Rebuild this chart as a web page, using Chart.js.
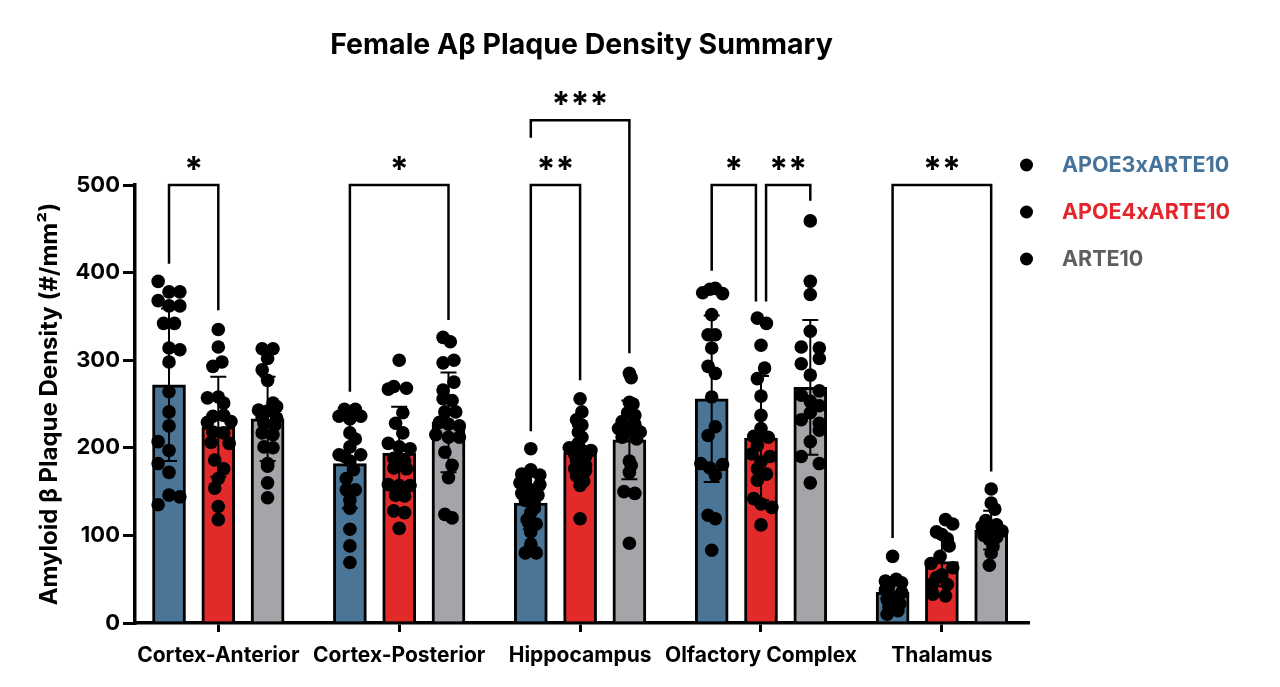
<!DOCTYPE html>
<html>
<head>
<meta charset="utf-8">
<title>Female Aβ Plaque Density Summary</title>
<script src="https://cdn.jsdelivr.net/npm/chart.js@4.4.1/dist/chart.umd.min.js"></script>
<style>
  html, body { margin: 0; background: #fff; }
  #wrap { position: relative; width: 1280px; height: 687px; }
</style>
</head>
<body>
<div id="wrap"><canvas id="plaqueChart"></canvas></div>
<script>
const chartTitle = 'Female Aβ Plaque Density Summary';
const regions = ['Cortex-Anterior', 'Cortex-Posterior', 'Hippocampus', 'Olfactory Complex', 'Thalamus'];
const genotypes = ['APOE3xARTE10', 'APOE4xARTE10', 'ARTE10'];

// bar heights (mean) and error bars (SD), one entry per region
const apoe3Mean = [272, 182, 137, 256, 35];
const apoe3SD = [87, 51, 30, 95, 15];
const apoe4Mean = [224, 194, 195, 211, 70];
const apoe4SD = [57, 53, 30, 71, 28];
const arte10Mean = [233, 229, 209, 269, 106];
const arte10SD = [48, 57, 45, 77, 22];

// individual animals, per region
const apoe3Values = [
  [390, 378, 378, 368, 362, 362, 342, 342, 314, 312, 298, 264, 241, 225, 207, 197, 182, 172, 146, 144, 135],
  [244, 244, 236, 236, 233, 217, 210, 201, 192, 192, 190, 185, 175, 165, 152, 152, 140, 131, 107, 88, 69],
  [199, 175, 170, 169, 163, 160, 158, 152, 148, 146, 140, 136, 131, 126, 118, 114, 113, 104, 90, 80, 80],
  [377, 381, 382, 376, 352, 329, 329, 314, 293, 285, 258, 224, 214, 182, 177, 181, 169, 123, 119, 83],
  [76, 48, 50, 46, 42, 38, 35, 30, 27, 22, 18, 14, 10]
];
const apoe4Values = [
  [335, 315, 293, 298, 257, 258, 251, 236, 237, 229, 230, 218, 217, 206, 205, 186, 176, 165, 154, 133, 118],
  [300, 270, 267, 268, 240, 228, 217, 205, 201, 199, 188, 185, 177, 176, 158, 157, 157, 146, 145, 128, 126, 108],
  [256, 241, 232, 226, 218, 212, 205, 200, 199, 197, 193, 190, 186, 180, 176, 174, 168, 162, 157, 119],
  [348, 342, 317, 291, 279, 259, 237, 222, 213, 212, 203, 193, 190, 184, 176, 170, 163, 142, 136, 132, 112],
  [118, 113, 104, 101, 96, 88, 76, 68, 63, 55, 52, 45, 44, 33, 31]
];
const arte10Values = [
  [313, 313, 302, 289, 277, 251, 247, 243, 242, 235, 234, 228, 226, 217, 215, 201, 200, 182, 179, 160, 143],
  [326, 321, 300, 297, 275, 266, 256, 254, 241, 241, 229, 227, 225, 215, 212, 212, 195, 180, 166, 124, 120],
  [285, 280, 252, 250, 240, 237, 230, 227, 222, 220, 218, 212, 210, 185, 180, 172, 150, 148, 91],
  [459, 390, 375, 333, 315, 314, 302, 296, 283, 265, 260, 253, 248, 240, 232, 228, 220, 207, 190, 182, 160],
  [153, 137, 130, 117, 112, 110, 108, 105, 100, 98, 95, 88, 80, 66]
];

// horizontal scatter of each dot, hundredths of a region width
const apoe3Jitter = [
  [-6, 0, 6, -6, 0, 6, -3, 3, 0, 6, 0, 0, 0, 0, -6, 0, -6, 0, 0, 6, -6],
  [-3, 3, -6, 6, 0, 0, 3, 0, -6, 6, -3, 0, 2, -2, -2, 3, 0, 0, 0, 0, 0],
  [0, 0, -5, 5, -3, -6, 5, 0, -5, 4, -3, 2, 2, 0, -2, -1, 3, 0, 0, -3, 3],
  [-5, -1, 2, 6, 0, -2, 2, 0, -2, 2, 0, 2, -2, -6, -1, 6, 2, -2, 2, 0],
  [0, -4, 2, 5, -2, -4, 5, 0, -3, 4, -2, 3, -3]
];
const apoe4Jitter = [
  [0, 0, -3, 2, -6, 0, 3, -3, 3, -6, 7, -3, 3, -4, 6, -2, 3, 0, -2, 0, 0],
  [0, -3, -6, 4, 2, -2, 2, -6, 0, 6, -3, 3, -3, 4, -6, 0, 6, -2, 3, -3, 3, 0],
  [0, 1, -2, 1, -1, 1, -1, -6, 0, 6, -3, 3, -2, 3, -3, 3, -2, 2, 0, 0],
  [-2, 3, 0, 2, -2, 0, 0, 0, -4, 4, -2, -5, 5, 0, -2, 3, -2, -4, 0, 6, 0],
  [2, 6, -3, 0, 3, 4, -1, -6, 6, 0, -3, -5, 3, -5, 2]
];
const arte10Jitter = [
  [-3, 3, 0, -3, 0, 3, 5, -5, 0, -3, 5, -2, 4, -3, 3, -2, 3, 0, 0, 0, 0],
  [-3, 1, 3, -3, 3, -3, -3, 2, -2, 4, -5, 0, 6, -7, 0, 6, -2, 2, 0, -2, 2],
  [0, 1, 0, 2, -1, 3, -4, 3, -6, 0, 6, -4, 4, 0, 1, 0, -3, 3, 0],
  [0, 0, 0, 0, -5, 5, 5, -5, 0, 5, -5, 0, 5, 0, -5, 5, 5, 0, -5, 5, 0],
  [0, 0, 2, -3, 3, -5, 0, 6, -4, 3, -1, 1, 0, -1]
];

// significance brackets: genotype indexes, bracket level and leg ends (y values)
const brackets = [
  { region: 0, from: 0, to: 1, level: 500, footFrom: 410, footTo: 357, label: '*' },
  { region: 1, from: 0, to: 2, level: 500, footFrom: 264, footTo: 346, label: '*' },
  { region: 2, from: 0, to: 1, level: 500, footFrom: 219, footTo: 277, label: '**' },
  { region: 2, from: 0, to: 2, level: 574, footFrom: 554, footTo: 308, label: '***' },
  { region: 3, from: 0, to: 1, level: 500, footFrom: 402, footTo: 367, label: '*', nudgeTo: -0.028 },
  { region: 3, from: 1, to: 2, level: 500, footFrom: 367, footTo: 482, label: '**', nudgeFrom: 0.028 },
  { region: 4, from: 0, to: 2, level: 500, footFrom: 97, footTo: 173, label: '**' }
];

const barColors = ['#4a7597', '#e22a2a', '#a4a4a9'];
const legendColors = ['#457399', '#e3262b', '#5e5e5e'];

const means = [apoe3Mean, apoe4Mean, arte10Mean];
const sds = [apoe3SD, apoe4SD, arte10SD];
const values = [apoe3Values, apoe4Values, arte10Values];
const jitters = [apoe3Jitter, apoe4Jitter, arte10Jitter];

const barStep = 0.2725;
const groupOffsets = [-barStep, 0, barStep];
const font = 'Inter, "Noto Sans", "DejaVu Sans", sans-serif';

Chart.defaults.font.family = font;
Chart.defaults.color = '#000';

const datasets = [];
genotypes.forEach((name, g) => {
  datasets.push({
    type: 'bar',
    label: name,
    genotype: g,
    data: regions.map((r, i) => ({ x: i + groupOffsets[g], y: means[g][i] })),
    backgroundColor: barColors[g],
    borderColor: '#000',
    borderWidth: 3,
    borderSkipped: 'start',
    barThickness: 33,
    grouped: false,
    order: 2
  });
});
genotypes.forEach((name, g) => {
  const pts = [];
  values[g].forEach((list, i) => {
    list.forEach((v, k) => {
      pts.push({ x: i + groupOffsets[g] + jitters[g][i][k] / 100, y: v });
    });
  });
  datasets.push({
    type: 'scatter',
    label: name + ' points',
    data: pts,
    pointRadius: 6.8,
    pointHoverRadius: 6.8,
    pointBackgroundColor: '#000',
    pointBorderWidth: 0,
    showLine: false,
    clip: false,
    order: 0
  });
});

const errorBars = {
  id: 'errorBars',
  afterDatasetDraw(chart, args) {
    const ds = chart.data.datasets[args.index];
    if (ds.type !== 'bar') return;
    const g = ds.genotype;
    const y = chart.scales.y;
    const ctx = chart.ctx;
    ctx.save();
    ctx.strokeStyle = '#000';
    ctx.lineWidth = 2;
    args.meta.data.forEach((bar, i) => {
      const top = y.getPixelForValue(means[g][i] + sds[g][i]);
      const bot = y.getPixelForValue(means[g][i] - sds[g][i]);
      ctx.beginPath();
      ctx.moveTo(bar.x, top); ctx.lineTo(bar.x, bot);
      ctx.moveTo(bar.x - 8, top); ctx.lineTo(bar.x + 8, top);
      ctx.moveTo(bar.x - 8, bot); ctx.lineTo(bar.x + 8, bot);
      ctx.stroke();
    });
    ctx.restore();
  }
};

const annotations = {
  id: 'annotations',
  afterDraw(chart) {
    const ctx = chart.ctx;
    const x = chart.scales.x;
    const y = chart.scales.y;
    const area = chart.chartArea;
    ctx.save();

    // title
    ctx.fillStyle = '#000';
    ctx.font = 'bold 28.5px ' + font;
    ctx.textAlign = 'center';
    ctx.textBaseline = 'middle';
    ctx.fillText(chartTitle, (area.left + area.right) / 2, 45);

    // brackets
    ctx.strokeStyle = '#000';
    ctx.lineWidth = 2.5;
    ctx.lineJoin = 'miter';
    brackets.forEach(b => {
      const xa = x.getPixelForValue(b.region + groupOffsets[b.from] + (b.nudgeFrom || 0));
      const xb = x.getPixelForValue(b.region + groupOffsets[b.to] + (b.nudgeTo || 0));
      const yl = y.getPixelForValue(b.level);
      ctx.beginPath();
      ctx.moveTo(xa, y.getPixelForValue(b.footFrom));
      ctx.lineTo(xa, yl);
      ctx.lineTo(xb, yl);
      ctx.lineTo(xb, y.getPixelForValue(b.footTo));
      ctx.stroke();
      ctx.font = 'bold 34px ' + font;
      ctx.textAlign = 'center';
      ctx.textBaseline = 'alphabetic';
      ctx.fillText(b.label, (xa + xb) / 2, yl - 4);
    });

    // legend
    ctx.font = 'bold 21.5px ' + font;
    ctx.textAlign = 'left';
    ctx.textBaseline = 'middle';
    genotypes.forEach((name, g) => {
      const ly = 165 + g * 47;
      ctx.fillStyle = '#000';
      ctx.beginPath();
      ctx.arc(1026.5, ly, 6.5, 0, Math.PI * 2);
      ctx.fill();
      ctx.fillStyle = legendColors[g];
      ctx.fillText(name, 1062, ly + 1);
    });
    ctx.restore();
  }
};

new Chart(document.getElementById('plaqueChart'), {
  type: 'bar',
  data: { datasets: datasets },
  options: {
    responsive: true,
    maintainAspectRatio: false,
    animation: false,
    layout: { padding: { top: 185, right: 252, bottom: 0, left: 0 } },
    plugins: {
      legend: { display: false },
      title: { display: false },
      tooltip: { enabled: false }
    },
    scales: {
      x: {
        type: 'linear',
        min: -0.4605,
        max: 4.476,
        offset: false,
        afterBuildTicks: s => { s.ticks = regions.map((r, i) => ({ value: i })); },
        afterFit: s => { s.height = 64; },
        ticks: {
          callback: v => regions[v],
          font: { weight: 'bold', size: 21 },
          color: '#000',
          padding: 11,
          autoSkip: false,
          maxRotation: 0
        },
        grid: { drawOnChartArea: false, offset: false, color: '#000', lineWidth: 3, tickLength: 9 },
        border: { color: '#000', width: 3.5 }
      },
      y: {
        min: 0,
        max: 500,
        afterFit: s => { s.width = 135; },
        ticks: { stepSize: 100, font: { weight: 'bold', size: 22 }, color: '#000', padding: 3 },
        grid: { drawOnChartArea: false, color: '#000', lineWidth: 3, tickLength: 12 },
        border: { color: '#000', width: 3.5 },
        title: {
          display: true,
          text: 'Amyloid β Plaque Density (#/mm²)',
          font: { weight: 'bold', size: 24 },
          color: '#000',
          padding: { top: 35, bottom: 0 }
        }
      }
    }
  },
  plugins: [errorBars, annotations]
});
</script>
</body>
</html>
